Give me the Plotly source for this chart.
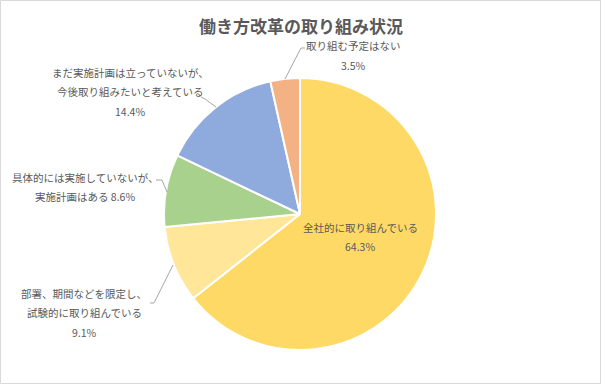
import plotly.graph_objects as go

W, H = 602, 386

categories = [
    "全社的に取り組んでいる",
    "部署、期間などを限定し、試験的に取り組んでいる",
    "具体的には実施していないが、実施計画はある",
    "まだ実施計画は立っていないが、今後取り組みたいと考えている",
    "取り組む予定はない",
]
values = [64.3, 9.1, 8.6, 14.4, 3.5]
colors = ["#FFD966", "#FFE699", "#A9D18E", "#8FAADC", "#F4B183"]

# label lines per slice
label_lines = [
    ["全社的に取り組んでいる", "64.3%"],
    ["部署、期間などを限定し、", "試験的に取り組んでいる", "9.1%"],
    ["具体的には実施していないが、", "実施計画はある 8.6%"],
    ["まだ実施計画は立っていないが、", "今後取り組みたいと考えている", "14.4%"],
    ["取り組む予定はない", "3.5%"],
]
# label block: centre x, first-line y (pixels from top)
label_pos = [(360, 227), (84, 293), (85, 177), (130, 72), (353, 46)]
LINE_GAP = 19.8
# leader lines in pixels
leaders = [
    None,
    [(150, 303), (154, 303), (173, 265)],
    [(156, 180), (162, 180), (167, 192)],
    [(201, 97), (205, 99), (216, 107)],
    [(305, 48), (301, 48), (285, 79)],
]

FONT = "Noto Sans CJK JP"
TXT = "#595959"


def px(x):
    return x / W


def py(y):
    return 1 - y / H


cx, cy, r = 300, 214, 136

fig = go.Figure(
    go.Pie(
        labels=categories,
        values=values,
        sort=False,
        direction="clockwise",
        rotation=0,
        marker=dict(colors=colors, line=dict(color="white", width=2)),
        textinfo="none",
        hoverinfo="skip",
        showlegend=False,
        domain=dict(x=[px(cx - r), px(cx + r)], y=[py(cy + r), py(cy - r)]),
    )
)

annotations = [
    dict(
        text="働き方改革の取り組み状況",
        x=px(301), y=py(25), xref="paper", yref="paper",
        showarrow=False, font=dict(family=FONT, size=17, color=TXT, weight="bold"),
        xanchor="center", yanchor="middle",
    )
]
for lines, (x, y0) in zip(label_lines, label_pos):
    for i, t in enumerate(lines):
        annotations.append(
            dict(
                text=t, x=px(x), y=py(y0 + i * LINE_GAP), xref="paper", yref="paper",
                showarrow=False, align="center",
                font=dict(family=FONT, size=10.5, color=TXT),
                xanchor="center", yanchor="middle",
            )
        )

shapes = [
    dict(type="rect", xref="paper", yref="paper",
         x0=px(0.5), y0=py(383.5), x1=px(600.5), y1=py(0.5),
         line=dict(color="#D9D9D9", width=1), fillcolor="rgba(0,0,0,0)")
]
for pts in leaders:
    if not pts:
        continue
    path = "M " + " L ".join(f"{px(a)},{py(b)}" for a, b in pts)
    shapes.append(dict(type="path", xref="paper", yref="paper", path=path,
                       line=dict(color="#A6A6A6", width=1)))

fig.update_layout(
    width=W, height=H,
    margin=dict(l=0, r=0, t=0, b=0),
    paper_bgcolor="white", plot_bgcolor="white",
    annotations=annotations, shapes=shapes,
    font=dict(family=FONT),
)

fig.write_html(
    "out.html",
    config={"displayModeBar": False},
    post_script="document.body.style.margin='0';document.body.style.overflow='hidden';",
)
